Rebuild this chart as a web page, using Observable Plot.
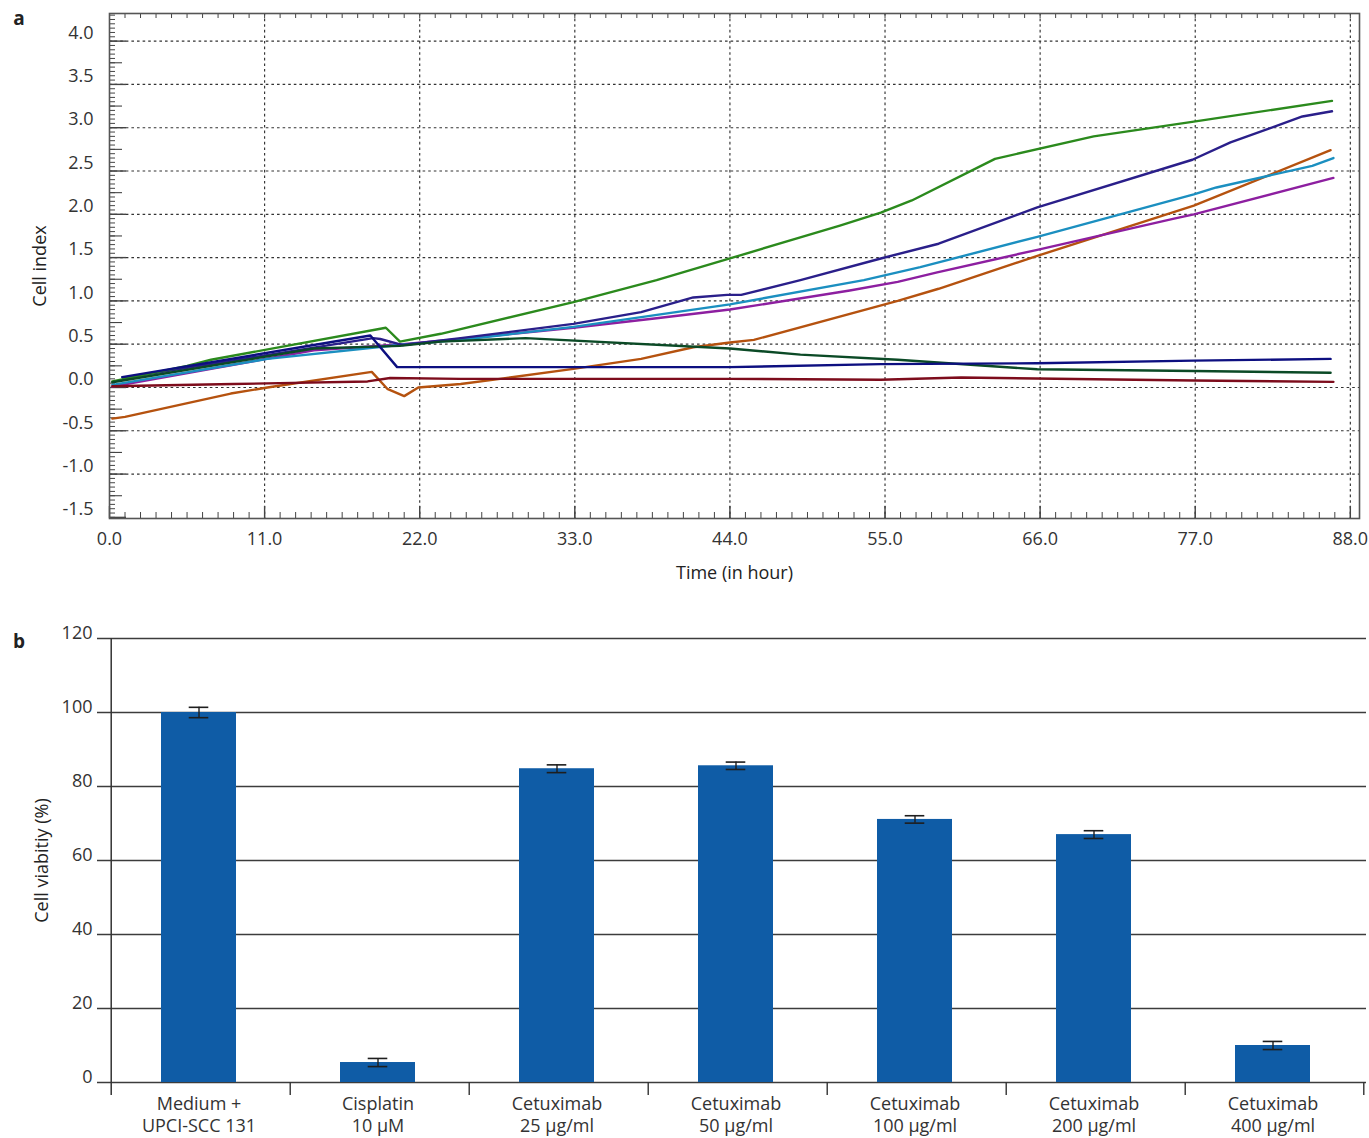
<!DOCTYPE html>
<html>
<head>
<meta charset="utf-8">
<script src="https://cdn.jsdelivr.net/npm/d3@7"></script>
<script src="https://cdn.jsdelivr.net/npm/@observablehq/plot@0.6"></script>
<style>
  body { margin: 0; background: #fff; }
  #chart { width: 1369px; }
  #chart svg { display: block; overflow: visible; }
</style>
</head>
<body>
<div id="chart"></div>
<script>
// ---------- Panel a: cell index over time (hour, value) ----------
const seriesNames = ["series 1", "series 2", "series 3", "series 4", "series 5", "series 6", "series 7", "series 8"];
const seriesColors = ["#b5520f", "#8d1fa0", "#1b8fc0", "#2a1f8a", "#2b8a1d", "#0b4a26", "#0d0f80", "#7d0c1c"];

const orangeSeries = [[0.2,-0.36],[1.1,-0.34],[8.6,-0.07],[11.2,0.0],[18.6,0.18],[19.7,-0.015],[20.9,-0.10],[21.9,0.0],[24.9,0.04],[27.7,0.10],[32.9,0.215],[37.7,0.33],[41.4,0.465],[44,0.52],[45.7,0.55],[55.9,1.0],[58.8,1.14],[65.8,1.52],[76.9,2.10],[86.6,2.74]];
const purpleSeries = [[0.2,0.01],[14.5,0.43],[20.8,0.50],[24.9,0.56],[32.9,0.69],[38.8,0.80],[44,0.90],[52.5,1.12],[55.9,1.22],[58.7,1.33],[65.8,1.59],[75.5,1.95],[76.9,2.0],[86.8,2.42]];
const cyanSeries = [[0.2,0.03],[11.2,0.33],[20.5,0.49],[24.9,0.55],[32.9,0.70],[44,0.96],[53.5,1.24],[57.5,1.39],[65.8,1.74],[76.9,2.23],[78.5,2.31],[85.3,2.56],[86.8,2.65]];
const indigoSeries = [[1.0,0.11],[18.7,0.57],[19.2,0.56],[20.8,0.49],[24.9,0.57],[32.9,0.735],[37.7,0.87],[41.4,1.04],[43.8,1.07],[44.8,1.07],[49,1.24],[54.7,1.49],[58.8,1.66],[65.8,2.08],[76.8,2.63],[79.5,2.83],[84.6,3.13],[86.7,3.19]];
const greenSeries = [[0.2,0.07],[5.5,0.25],[7.2,0.32],[19.6,0.69],[20.6,0.53],[23.5,0.62],[32.9,0.985],[38.8,1.24],[44,1.49],[51.8,1.87],[54.7,2.02],[56.9,2.16],[62.8,2.64],[69.8,2.90],[76.9,3.07],[86.7,3.31]];
const darkgreenSeries = [[0.2,0.06],[14.5,0.45],[20.6,0.48],[23.5,0.53],[29.5,0.57],[44,0.45],[49,0.38],[55.9,0.32],[65.8,0.21],[76.9,0.19],[86.6,0.17]];
const navySeries = [[0.9,0.12],[18.5,0.60],[20.4,0.235],[44,0.235],[54.7,0.27],[65.8,0.28],[76.9,0.31],[86.6,0.33]];
const maroonSeries = [[0.2,0.015],[8.8,0.04],[18.3,0.07],[19.9,0.11],[24.9,0.10],[44,0.10],[54.7,0.09],[60.4,0.115],[76.9,0.08],[86.8,0.065]];

const xTickHours = [0, 11, 22, 33, 44, 55, 66, 77, 88];
const yTickIndex = [-1.5, -1.0, -0.5, 0.0, 0.5, 1.0, 1.5, 2.0, 2.5, 3.0, 3.5, 4.0];

// ---------- Panel b: cell viability ----------
const categories = ["Medium +\nUPCI-SCC 131", "Cisplatin\n10 µM", "Cetuximab\n25 µg/ml", "Cetuximab\n50 µg/ml", "Cetuximab\n100 µg/ml", "Cetuximab\n200 µg/ml", "Cetuximab\n400 µg/ml"];
const viability = [100, 5.4, 84.8, 85.6, 71.1, 67.0, 10.0];
const viabilityErr = [1.4, 1.1, 1.05, 1.0, 1.0, 1.05, 1.1];
const yTickViability = [0, 20, 40, 60, 80, 100, 120];

// ---------- build tables ----------
const seriesData = [orangeSeries, purpleSeries, cyanSeries, indigoSeries, greenSeries, darkgreenSeries, navySeries, maroonSeries];
const lineTable = seriesData.flatMap((pts, k) => pts.map(([hour, value]) => ({series: seriesNames[k], hour, value})));
const barTable = categories.map((c, i) => ({category: c, line1: c.split("\n")[0], line2: c.split("\n")[1], viability: viability[i], err: viabilityErr[i]}));

const FONT = "'Open Sans', 'Noto Sans', sans-serif";
const W = 1369;

// tick positions (axis furniture)
const yMinor = d3.range(-30, 87).map(i => +(i * 0.05).toFixed(2));
const yMid = d3.range(-5, 17, 2).map(i => i * 0.25);
const xMinor = d3.range(0, 81).map(i => +(i * 1.1).toFixed(2));

const aH = 590, aMT = 13, aMB = 72, aML = 109, aMR = 10;
const aPW = W - aML - aMR, aPH = aH - aMT - aMB;
const gridStyle = {stroke: "#333", strokeWidth: 1.15, strokeDasharray: "2.6,3"};

const plotA = Plot.plot({
  width: W, height: aH,
  marginLeft: aML, marginRight: aMR, marginTop: aMT, marginBottom: aMB,
  style: {fontFamily: FONT, background: "white", color: "#333", overflow: "visible"},
  x: {domain: [0, 88.65], label: null},
  y: {domain: [-1.513, 4.319], label: null},
  color: {type: "ordinal", domain: seriesNames, range: seriesColors},
  marks: [
    Plot.ruleY(yTickIndex.filter(v => v > -1.5), {y: d => d, ...gridStyle}),
    Plot.ruleX(xTickHours.filter(v => v > 0), {x: d => d, ...gridStyle}),
    Plot.tickY(yMinor, {y: d => d, insetRight: aPW - 6, stroke: "#444", strokeWidth: 1}),
    Plot.tickY(yMid, {y: d => d, insetRight: aPW - 13, stroke: "#444", strokeWidth: 1.1}),
    Plot.tickY(yTickIndex, {y: d => d, insetRight: aPW - 17, stroke: "#444", strokeWidth: 1.4}),
    Plot.tickX(xMinor, {x: d => d, insetTop: aPH - 6, stroke: "#444", strokeWidth: 1}),
    Plot.tickX(xMinor, {x: d => d, insetBottom: aPH - 5, stroke: "#444", strokeWidth: 1}),
    Plot.tickX(xTickHours, {x: d => d, insetTop: aPH - 12, stroke: "#444", strokeWidth: 1.4}),
    Plot.frame({stroke: "#555", strokeWidth: 1.6}),
    Plot.line(lineTable, {x: "hour", y: "value", z: "series", stroke: "series", strokeWidth: 2.4, strokeLinejoin: "round"}),
    Plot.axisY({ticks: yTickIndex, tickSize: 0, tickPadding: 16, dy: -8, tickFormat: d => d.toFixed(1), fontSize: 18, label: null}),
    Plot.axisX({ticks: xTickHours, tickSize: 0, tickPadding: 14, tickFormat: d => d.toFixed(1), fontSize: 18, label: null}),
    Plot.text(["Time (in hour)"], {text: d => d, frameAnchor: "bottom", textAnchor: "middle", lineAnchor: "middle", dy: 55, fontSize: 18, fill: "#222"}),
    Plot.text(["Cell index"], {text: d => d, frameAnchor: "left", textAnchor: "middle", lineAnchor: "middle", dx: -69, rotate: -90, fontSize: 18, fill: "#222"}),
    Plot.text(["a"], {text: d => d, frameAnchor: "top-left", textAnchor: "middle", lineAnchor: "middle", dx: -90.5, dy: 5, fontSize: 19, fontWeight: "bold", fill: "#222"})
  ]
});

const bH = 548, bMT = 48, bMB = 56, bML = 109, bMR = 3;
const halfStep = (W - bML - bMR) / categories.length / 2;
const bandW = halfStep * 2 * 0.42;
const capInset = (bandW - 20) / 2;

const plotB = Plot.plot({
  width: W, height: bH,
  marginLeft: bML, marginRight: bMR, marginTop: bMT, marginBottom: bMB,
  style: {fontFamily: FONT, background: "white", color: "#333", overflow: "visible"},
  x: {domain: categories, paddingInner: 0.58, paddingOuter: 0.29, label: null, axis: null},
  y: {domain: [0, 120], label: null},
  marks: [
    Plot.ruleY(yTickViability, {y: d => d, insetLeft: -12, stroke: "#3c3c3c", strokeWidth: 1.4}),
    Plot.barY(barTable, {x: "category", y: "viability", fill: "#0f5ca6", dx: -2}),
    Plot.ruleX(barTable, {x: "category", y1: d => d.viability - d.err, y2: d => d.viability + d.err, stroke: "#1e1e1e", strokeWidth: 1.4, dx: -2}),
    Plot.tickY(barTable, {x: "category", y: d => d.viability + d.err, insetLeft: capInset, insetRight: capInset, stroke: "#1e1e1e", strokeWidth: 1.6, dx: -2}),
    Plot.tickY(barTable, {x: "category", y: d => d.viability - d.err, insetLeft: capInset, insetRight: capInset, stroke: "#1e1e1e", strokeWidth: 1.6, dx: -2}),
    Plot.ruleX([categories[0]], {x: d => d, dx: -halfStep, y1: 120, y2: 0, insetBottom: -13, stroke: "#333", strokeWidth: 1.5}),
    Plot.ruleX(categories.slice(1), {x: d => d, dx: -halfStep, y1: 0, y2: 0, insetBottom: -13, stroke: "#333", strokeWidth: 1.4}),
    Plot.ruleX([categories[categories.length - 1]], {x: d => d, dx: halfStep - 1, y1: 0, y2: 0, insetBottom: -13, stroke: "#333", strokeWidth: 1.4}),
    Plot.axisY({ticks: yTickViability, tickSize: 0, tickPadding: 17, dy: -5, fontSize: 18, label: null}),
    Plot.text(barTable, {x: "category", text: "line1", frameAnchor: "bottom", textAnchor: "middle", lineAnchor: "middle", dy: 22, dx: -2, fontSize: 18, fill: "#333"}),
    Plot.text(barTable, {x: "category", text: "line2", frameAnchor: "bottom", textAnchor: "middle", lineAnchor: "middle", dy: 44, dx: -2, fontSize: 18, fill: "#333"}),
    Plot.text(["Cell viabitiy (%)"], {text: d => d, frameAnchor: "left", textAnchor: "middle", lineAnchor: "middle", dx: -67, rotate: -90, fontSize: 18, fill: "#222"}),
    Plot.text(["b"], {text: d => d, frameAnchor: "top-left", textAnchor: "middle", lineAnchor: "middle", dx: -90.5, dy: 3, fontSize: 19, fontWeight: "bold", fill: "#222"})
  ]
});

const root = document.getElementById("chart");
root.appendChild(plotA);
root.appendChild(plotB);
</script>
</body>
</html>
